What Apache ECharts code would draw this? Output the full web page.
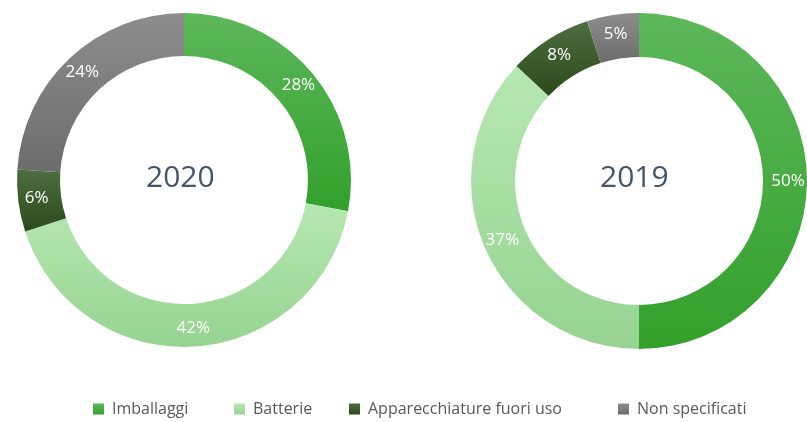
<!DOCTYPE html>
<html>
<head>
<meta charset="utf-8">
<script src="https://cdn.jsdelivr.net/npm/echarts@6/dist/echarts.min.js"></script>
<style>
  html, body { margin: 0; padding: 0; background: #fff; }
  #chart { width: 807px; height: 422px; }
</style>
</head>
<body>
<div id="chart"></div>
<script>
const categories = ['Imballaggi', 'Batterie', 'Apparecchiature fuori uso', 'Non specificati'];
const values2020 = [28, 42, 6, 24];
const values2019 = [50, 37, 8, 5];
const years = ['2020', '2019'];

// top / bottom colour of each slice gradient
const colorTop = ['#5db85a', '#b6e8b1', '#4d6e40', '#8d8d8d'];
const colorBottom = ['#32a02b', '#96d391', '#2b4a1c', '#6c6c6c'];

const chartDom = document.getElementById('chart');
const myChart = echarts.init(chartDom);

function grad(i) {
  return new echarts.graphic.LinearGradient(0, 0, 0, 1, [
    { offset: 0, color: colorTop[i] },
    { offset: 1, color: colorBottom[i] }
  ]);
}

function pieData(values) {
  return categories.map((name, i) => ({
    name: name,
    value: values[i],
    itemStyle: { color: grad(i) }
  }));
}

function pieSeries(values, center, radius) {
  return {
    type: 'pie',
    center: center,
    radius: radius,
    startAngle: 90,
    clockwise: true,
    avoidLabelOverlap: false,
    emphasis: { disabled: true },
    label: {
      show: true,
      position: 'inside',
      formatter: '{c}%',
      color: '#fff',
      fontSize: 17,
      fontFamily: 'Open Sans'
    },
    labelLine: { show: false },
    data: pieData(values)
  };
}

const legendLeft = [93, 234, 349, 618];
const legends = categories.map((name, i) => ({
  data: [name],
  left: legendLeft[i],
  top: 401,
  padding: 0,
  icon: 'rect',
  itemWidth: 11,
  itemHeight: 11,
  itemGap: 0,
  selectedMode: false,
  textStyle: {
    color: '#595959',
    fontSize: 16,
    fontFamily: 'Open Sans',
    padding: [0, 0, 0, 3]
  }
}));

const option = {
  animation: false,
  backgroundColor: '#fff',
  color: colorBottom,
  legend: legends,
  graphic: [
    {
      type: 'text',
      left: 146,
      top: 163,
      style: { text: years[0], fill: '#44546a', fontSize: 30, fontFamily: 'Open Sans' }
    },
    {
      type: 'text',
      left: 600,
      top: 163,
      style: { text: years[1], fill: '#44546a', fontSize: 30, fontFamily: 'Open Sans' }
    }
  ],
  series: [
    pieSeries(values2020, [184, 180], [124, 167]),
    pieSeries(values2019, [639, 181], [124, 168])
  ]
};

option && myChart.setOption(option);
</script>
</body>
</html>
